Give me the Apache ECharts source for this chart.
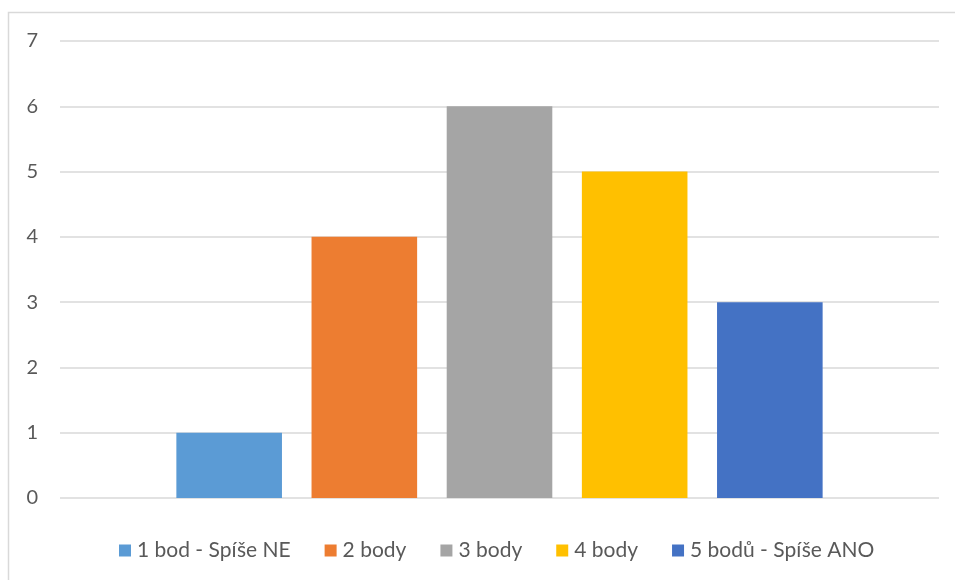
<!DOCTYPE html>
<html><head><meta charset="utf-8">
<script src="https://cdn.jsdelivr.net/npm/echarts@6/dist/echarts.min.js"></script>
<style>html,body{margin:0;padding:0;background:#fff}#c{width:955px;height:580px}</style>
</head><body><div id="c"></div>
<script>
const seriesNames = ["1 bod - Spíše NE", "2 body", "3 body", "4 body", "5 bodů - Spíše ANO"];
const seriesValues = [1, 4, 6, 5, 3];
const colors = ["#5B9BD5", "#ED7D31", "#A5A5A5", "#FFC000", "#4472C4"];
const categories = [""];
const yTicks = [0, 1, 2, 3, 4, 5, 6, 7];

const chart = echarts.init(document.getElementById('c'));
chart.setOption({
  animation: false,
  textStyle: {fontFamily: 'Lato'},
  graphic: [{type: 'rect', shape: {x: 8.5, y: 12.5, width: 1000, height: 700}, style: {fill: 'none', stroke: '#d9d9d9', lineWidth: 1.5}, silent: true}],
  grid: {left: 60, right: 16, top: 41, bottom: 82},
  legend: {
    top: 535, left: 114, itemWidth: 12, itemHeight: 12, itemGap: 34,
    icon: 'rect',
    textStyle: {color: '#595959', fontSize: 21, fontFamily: 'Lato', padding: [0, 0, 0, 1]},
    data: seriesNames
  },
  xAxis: {type: 'category', data: categories, axisLine: {show: false}, axisTick: {show: false}, axisLabel: {show: false}},
  yAxis: {type: 'value', min: yTicks[0], max: yTicks[yTicks.length - 1], interval: 1,
    axisLabel: {color: '#595959', fontSize: 20, margin: 22, fontFamily: 'Lato'},
    splitLine: {lineStyle: {color: '#d9d9d9', width: 1.5}},
    axisLine: {show: false}, axisTick: {show: false}},
  series: seriesNames.map((n, i) => ({
    name: n, type: 'bar', data: [seriesValues[i]], barWidth: 105.6, barGap: '28%',
    itemStyle: {color: colors[i]}
  }))
});
</script></body></html>
